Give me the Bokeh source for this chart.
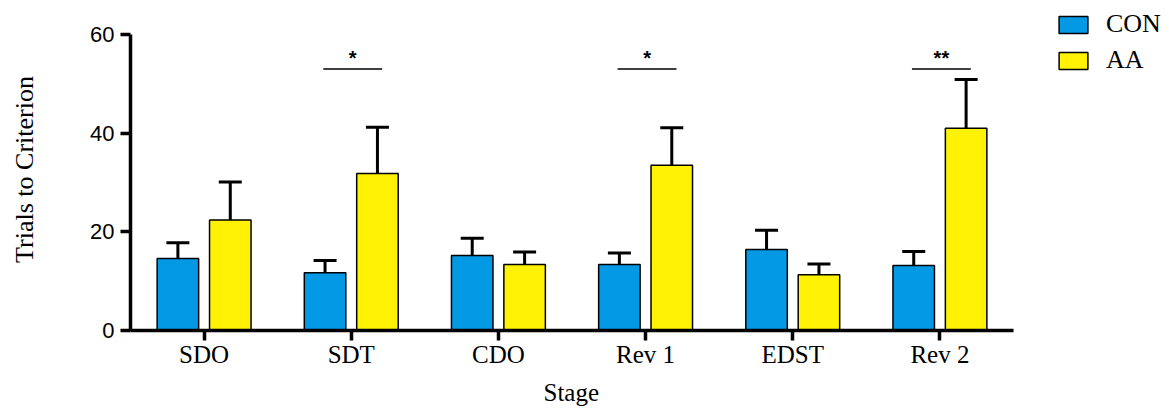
from bokeh.plotting import figure
from bokeh.models import (ColumnDataSource, Legend, LegendItem, FixedTicker, Range1d,
                          CustomJSTickFormatter, Title)
from bokeh.transform import dodge
from bokeh.embed import file_html
from bokeh.resources import INLINE

stages = ["SDO", "SDT", "CDO", "Rev 1", "EDST", "Rev 2"]
con_mean = [14.6, 11.7, 15.2, 13.4, 16.4, 13.2]
con_sem = [3.2, 2.5, 3.5, 2.3, 3.9, 2.8]
aa_mean = [22.4, 31.8, 13.4, 33.5, 11.3, 41.0]
aa_sem = [7.7, 9.4, 2.5, 7.6, 2.2, 9.9]
sig = ["", "*", "", "*", "", "**"]
groups = ["CON", "AA"]
y_ticks = [0, 20, 40, 60]

# category slot centres on a numeric axis (one unit per stage)
xpos = [i + 0.5 for i in range(len(stages))]
con_hi = [m + e for m, e in zip(con_mean, con_sem)]
aa_hi = [m + e for m, e in zip(aa_mean, aa_sem)]

src = ColumnDataSource(dict(x=xpos, stage=stages, con=con_mean, con_hi=con_hi,
                            aa=aa_mean, aa_hi=aa_hi))
sig_x = [x for x, t in zip(xpos, sig) if t]
sig_text = [t for t in sig if t]
sig_src = ColumnDataSource(dict(x=sig_x, txt=sig_text,
                                y=[53.0] * len(sig_x), ty=[55.2] * len(sig_x)))

BLUE = "#0399E4"
YELLOW = "#FFF205"

W, H = 1169, 414
LEFT, TOP, BOTTOM = 130, 8, 84
plot_w = 883          # pixel width of the axis (6 stages)
axis_h = 296          # pixel height of 0..60
x_end = len(stages) * (W - LEFT) / plot_w
y_end = 60 * (H - TOP - BOTTOM) / axis_h

p = figure(x_range=Range1d(0, x_end), y_range=Range1d(0, y_end), width=W, height=H,
           output_backend="svg", toolbar_location=None,
           min_border_left=LEFT, min_border_right=0, min_border_top=TOP,
           min_border_bottom=BOTTOM)
p.grid.visible = False
p.outline_line_color = None
p.background_fill_color = "white"

off = 0.178
bw = 0.282
r_con = p.vbar(x=dodge("x", -off), top="con", width=bw, source=src,
               fill_color=BLUE, line_color="black", line_width=1.5)
r_aa = p.vbar(x=dodge("x", off), top="aa", width=bw, source=src,
              fill_color=YELLOW, line_color="black", line_width=1.5)

for o, lo, hi in [(-off, "con", "con_hi"), (off, "aa", "aa_hi")]:
    p.segment(x0=dodge("x", o), y0=lo, x1=dodge("x", o), y1=hi,
              source=src, line_color="black", line_width=3)
    p.scatter(x=dodge("x", o), y=hi, marker="dash", size=23,
              line_width=3, line_color="black", source=src)

p.segment(x0=dodge("x", -0.19), y0="y", x1=dodge("x", 0.21), y1="y",
          source=sig_src, line_color="black", line_width=1.5)
p.text(x=dodge("x", 0.01), y="ty", text="txt", source=sig_src,
       text_align="center", text_baseline="alphabetic", text_font_size="20px",
       text_font_style="bold", text_color="black")

# axes
p.yaxis.ticker = FixedTicker(ticks=y_ticks)
p.yaxis.bounds = (0, 60)
p.xaxis.ticker = FixedTicker(ticks=xpos)
p.xaxis.bounds = (0, len(stages))
p.xaxis.formatter = CustomJSTickFormatter(args=dict(names=stages),
                                          code="return names[Math.floor(tick)] || ''")
for ax in (p.xaxis[0], p.yaxis[0]):
    ax.axis_line_width = 3.5
    ax.axis_line_color = "black"
    ax.major_tick_line_width = 3.5
    ax.major_tick_line_color = "black"
    ax.major_tick_in = 0
    ax.major_tick_out = 10
    ax.minor_tick_line_color = None
    ax.axis_label_text_font_style = "normal"
    ax.axis_label_text_color = "black"
    ax.major_label_text_color = "black"

p.yaxis.major_label_text_font = "Liberation Sans"
p.yaxis.major_label_text_font_size = "22px"
p.yaxis.major_label_standoff = 6
p.yaxis.axis_label = "Trials to Criterion"
p.yaxis.axis_label_text_font = "Liberation Serif"
p.yaxis.axis_label_text_font_size = "26px"
p.yaxis.axis_label_standoff = 48

p.xaxis.major_label_text_font = "Liberation Serif"
p.xaxis.major_label_text_font_size = "25px"
p.xaxis.major_label_standoff = 0

# x-axis title, centred under the 6-stage axis (not the wider frame)
stage_title = Title(text="Stage", align="left", offset=413, standoff=12,
                    text_font="Liberation Serif", text_font_size="25px",
                    text_font_style="normal", text_color="black")
p.add_layout(stage_title, "below")

legend = Legend(items=[LegendItem(label=groups[0], renderers=[r_con]),
                       LegendItem(label=groups[1], renderers=[r_aa])],
                location="top_right", glyph_width=36, glyph_height=21,
                label_text_font="Liberation Serif", label_text_font_size="26px",
                label_text_color="black", label_width=63,
                label_standoff=15, spacing=4, padding=0, margin=0,
                border_line_color=None, background_fill_alpha=0,
                label_height=32)
p.add_layout(legend, "center")

open("out.html", "w").write(file_html(p, INLINE))
